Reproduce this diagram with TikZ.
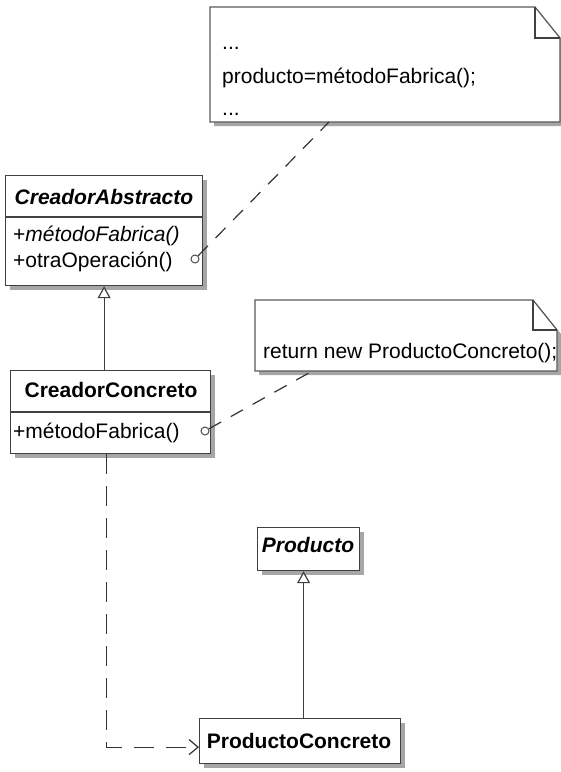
\documentclass[tikz,border=0pt]{standalone}
\usepackage{fontspec}
\setmainfont{Liberation Sans}
\usepackage{tikz}
\usetikzlibrary{arrows.meta}
\usetikzlibrary{calc}
\usetikzlibrary{shadows}

\tikzset{
  umlshadow/.style={drop shadow={shadow xshift=4pt, shadow yshift=-4pt, fill=black!35, opacity=1}},
  umlbox/.style={draw=black!75, line width=1.2pt, fill=white, inner sep=0pt, anchor=north west, umlshadow},
  umlline/.style={draw=black!75, line width=1.2pt},
  notebox/.style={inner sep=0pt, outer sep=0pt, anchor=north west},
  notepath/.style={draw=black!65, line width=1.2pt, fill=white, umlshadow},
  umltext/.style={inner sep=0pt, anchor=base west, font=\fontsize{21}{25}\selectfont},
  umltitle/.style={inner sep=0pt, anchor=base, font=\fontsize{21}{25}\selectfont\bfseries},
  anchorring/.style={circle, draw=black!70, fill=white, line width=1pt, minimum size=8pt, inner sep=0pt},
  notelink/.style={draw=black!80, line width=1.2pt, dash pattern=on 14pt off 11pt},
  generalization/.style={draw=black!75, line width=1.2pt, -{Triangle[open, length=12pt, width=13pt, fill=white]}},
  dependency/.style={draw=black!80, line width=1.2pt, dash pattern=on 20pt off 12pt, -{Straight Barb[length=9pt, width=15pt]}},
}

\begin{document}
\begin{tikzpicture}[x=1pt, y=-1pt]

    \useasboundingbox (0, 0) rectangle (561, 772);

    \node [notebox, minimum width=350pt, minimum height=115pt] (n1) at (210, 7) {};
    \draw [notepath] (n1.north west) -- ([xshift=-25pt]n1.north east)
    -- ([yshift=-31pt]n1.north east) -- (n1.south east) -- (n1.south west) -- cycle;
    \draw [umlline] ([xshift=-25pt]n1.north east) -- ([xshift=-25pt, yshift=-31pt]n1.north east)
    -- ([yshift=-31pt]n1.north east);
    \node [umltext] (n1a) at (222, 49) {...};
    \node [umltext] (n1b) at (222, 83) {producto=métodoFabrica();};
    \node [umltext] (n1c) at (222, 115) {...};

    \node [notebox, minimum width=302pt, minimum height=71pt] (n2) at (255, 300) {};
    \draw [notepath] (n2.north west) -- ([xshift=-24pt]n2.north east)
    -- ([yshift=-30pt]n2.north east) -- (n2.south east) -- (n2.south west) -- cycle;
    \draw [umlline] ([xshift=-24pt]n2.north east) -- ([xshift=-24pt, yshift=-30pt]n2.north east)
    -- ([yshift=-30pt]n2.north east);
    \node [umltext] (n2a) at (263, 358) {return new ProductoConcreto();};

    \node [umlbox, minimum width=197pt, minimum height=110pt] (abs) at (5, 175) {};
    \draw [umlline] ([yshift=-42pt]abs.north west) -- ([yshift=-42pt]abs.north east);
    \node [umltitle] (absname) at (104, 204) {\textit{CreadorAbstracto}};
    \node [umltext] (absm1) at (13, 241) {+\textit{métodoFabrica()}};
    \node [umltext] (absm2) at (13, 267) {+otraOperación()};

    \node [umlbox, minimum width=200pt, minimum height=83pt] (cc) at (10, 370) {};
    \draw [umlline] ([yshift=-42pt]cc.north west) -- ([yshift=-42pt]cc.north east);
    \node [umltitle] (ccname) at (111, 397) {CreadorConcreto};
    \node [umltext] (ccm1) at (13, 438) {+métodoFabrica()};

    \node [umlbox, minimum width=102pt, minimum height=43pt] (prod) at (257, 527) {};
    \node [umltitle] (prodname) at (308, 552) {\textit{Producto}};

    \node [umlbox, minimum width=201pt, minimum height=45pt] (pc) at (199, 718) {};
    \node [umltitle] (pcname) at (299, 748) {ProductoConcreto};

    \draw [generalization] (cc.north -| abs.south) -- (abs.south);
    \draw [generalization] ($(pc.north -| prod.south)+(-5, 0)$) -- ($(prod.south)+(-5, 0)$);
    \draw [dependency] ([xshift=-4pt]cc.south) |- ([yshift=-6pt]pc.west);

    \node [anchorring] (c1) at (195, 259) {};
    \node [anchorring] (c2) at (205, 431) {};
    \draw [notelink] (c1) -- (n1);
    \draw [notelink] (c2) -- ($(n2.south west)!0.19!(n2.south east)$);

  \end{tikzpicture}
\end{document}
